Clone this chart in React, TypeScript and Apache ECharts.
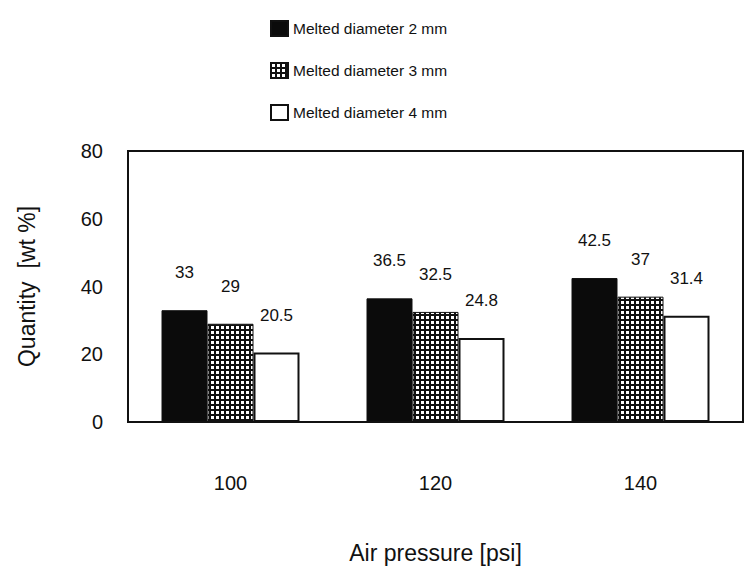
import React, { useEffect, useRef } from "react";
import * as echarts from "echarts";

// Air pressure settings (psi) on the category axis
const categories = ["100", "120", "140"];
const seriesNames = [
  "Melted diameter 2 mm",
  "Melted diameter 3 mm",
  "Melted diameter 4 mm",
];
// Quantity in wt % for each melted diameter
const dia2mm = [33, 36.5, 42.5];
const dia3mm = [29, 32.5, 37];
const dia4mm = [20.5, 24.8, 31.4];
const yTicks = [0, 20, 40, 60, 80];

const FONT = "'Liberation Sans', Arial, Helvetica, sans-serif";
const INK = "#111";

// Small tile for the cross-hatched fill: black grid with white cells
function makeGridTile(): HTMLCanvasElement {
  const size = 5;
  const c = document.createElement("canvas");
  c.width = size;
  c.height = size;
  const ctx = c.getContext("2d")!;
  ctx.fillStyle = "#111";
  ctx.fillRect(0, 0, size, size);
  ctx.fillStyle = "#fff";
  ctx.fillRect(1, 1, 3, 3);
  return c;
}

export default function App() {
  const ref = useRef<HTMLDivElement>(null);

  useEffect(() => {
    document.body.style.margin = "0";
    if (!ref.current) return;
    const chart = echarts.init(ref.current, null, { renderer: "svg" });
    const tile = makeGridTile();
    const gridFill: any = {
      image: tile,
      repeat: "repeat",
      imageWidth: tile.width,
      imageHeight: tile.height,
    };

    const labelStyle = {
      show: true,
      position: "top" as const,
      distance: 29,
      fontSize: 17,
      fontFamily: FONT,
      color: INK,
    };

    const fills = ["#0b0b0b", gridFill, "#ffffff"];
    const values = [dia2mm, dia3mm, dia4mm];

    chart.setOption({
      animation: false,
      backgroundColor: "#ffffff",
      textStyle: { fontFamily: FONT, color: INK },
      legend: {
        orient: "vertical",
        left: 270,
        top: 20,
        padding: 0,
        icon: "rect",
        itemWidth: 17,
        itemHeight: 15,
        itemGap: 25,
        selectedMode: false,
        textStyle: { fontSize: 15.5, fontFamily: FONT, color: INK },
        data: seriesNames,
      },
      grid: {
        left: 128,
        right: 3,
        top: 151,
        bottom: 162,
        show: true,
        borderColor: INK,
        borderWidth: 2,
        backgroundColor: "transparent",
      },
      xAxis: {
        type: "category",
        data: categories,
        name: "Air pressure [psi]",
        nameLocation: "middle",
        nameGap: 119,
        nameTextStyle: { fontSize: 23, fontFamily: FONT, color: INK },
        axisLine: { show: true, lineStyle: { color: INK, width: 2 } },
        axisTick: { show: false },
        axisLabel: { fontSize: 20, margin: 51, color: INK, fontFamily: FONT },
      },
      yAxis: {
        type: "value",
        min: yTicks[0],
        max: yTicks[yTicks.length - 1],
        interval: 20,
        name: "Quantity  [wt %]",
        nameLocation: "middle",
        nameGap: 90,
        nameTextStyle: { fontSize: 23, fontFamily: FONT, color: INK },
        axisLine: { show: true, lineStyle: { color: INK, width: 2 } },
        axisTick: { show: false },
        splitLine: { show: false },
        axisLabel: { fontSize: 20, margin: 25, color: INK, fontFamily: FONT },
      },
      series: seriesNames.map((name, i) => ({
        name,
        type: "bar",
        data: values[i],
        barWidth: 46,
        barGap: "0%",
        itemStyle: {
          color: fills[i],
          borderColor: INK,
          borderWidth: i === 2 ? 2 : 1,
        },
        label: labelStyle,
      })),
    });

    return () => chart.dispose();
  }, []);

  return <div ref={ref} style={{ width: 746, height: 584 }} />;
}
